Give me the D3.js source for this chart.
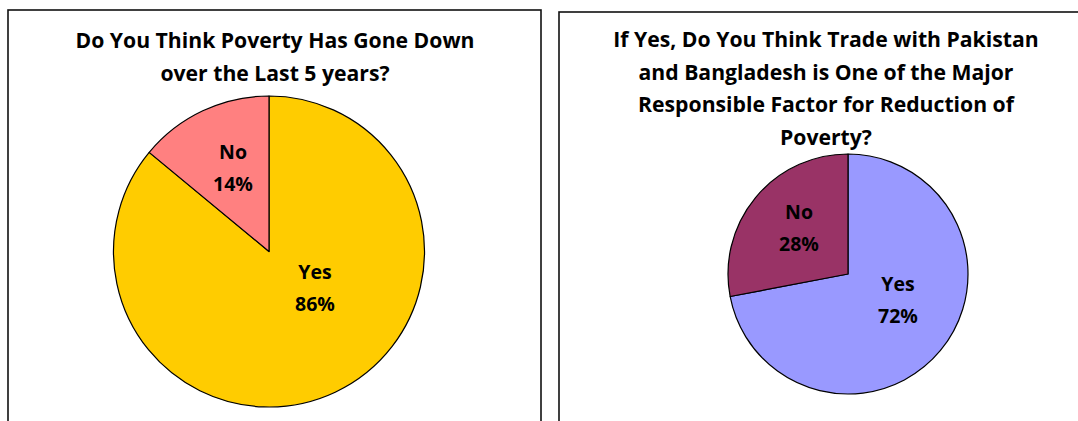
<!DOCTYPE html>
<html><head><meta charset="utf-8">
<script src="https://cdn.jsdelivr.net/npm/d3@7"></script>
<style>html,body{margin:0;padding:0;background:#fff;}svg{display:block;}</style>
</head><body>
<svg id="chart" width="1078" height="421"></svg>
<script>
// ---- data ----
const categories = ["Yes", "No"];
const povertyValues = [86, 14];
const tradeValues = [72, 28];
const povertyTitle = ["Do You Think Poverty Has Gone Down", "over the Last 5 years?"];
const tradeTitle = ["If Yes, Do You Think Trade with Pakistan", "and Bangladesh is One of the Major", "Responsible Factor for Reduction of", "Poverty?"];

// ---- layout / style ----
const panels = [
  { frame: [8, 10, 533, 430], cx: 269, cy: 251.5, r: 155.5, values: povertyValues, title: povertyTitle,
    titleX: 275, titleY0: 48, colors: ["#FFCC00", "#FF8080"],
    labelPos: [[315, 279], [233, 159]] },
  { frame: [559, 12, 540, 430], cx: 848, cy: 274, r: 120, values: tradeValues, title: tradeTitle,
    titleX: 826, titleY0: 47, colors: ["#9999FF", "#993366"],
    labelPos: [[898, 291], [799, 219]] }
];
const font = "'Open Sans', sans-serif";
const titleSize = 21.2;
const labelSize = 19.5;
const lineH = 32.5;

const svg = d3.select("#chart");

panels.forEach(p => {
  const [fx, fy, fw, fh] = p.frame;
  svg.append("rect").attr("x", fx).attr("y", fy).attr("width", fw).attr("height", fh)
    .attr("fill", "#fff").attr("stroke", "#111").attr("stroke-width", 1.6);

  const t = svg.append("text").attr("text-anchor", "middle")
    .attr("font-family", font).attr("font-weight", "bold").attr("font-size", titleSize).attr("fill", "#000");
  p.title.forEach((line, i) => {
    t.append("tspan").attr("x", p.titleX).attr("y", p.titleY0 + i * lineH).text(line);
  });

  const pie = d3.pie().sort(null).value(d => d)(p.values);
  const arc = d3.arc().innerRadius(0).outerRadius(p.r);
  const color = d3.scaleOrdinal().domain(categories).range(p.colors);
  const g = svg.append("g").attr("transform", `translate(${p.cx},${p.cy})`);
  g.selectAll("path").data(pie).join("path")
    .attr("d", arc)
    .attr("fill", (d, i) => color(categories[i]))
    .attr("stroke", "#000").attr("stroke-width", 1.2).attr("stroke-linejoin", "round");

  const total = d3.sum(p.values);
  const lbl = svg.selectAll(null).data(pie).join("text")
    .attr("text-anchor", "middle")
    .attr("font-family", font).attr("font-weight", "bold").attr("font-size", labelSize).attr("fill", "#000");
  lbl.append("tspan").attr("x", (d, i) => p.labelPos[i][0]).attr("y", (d, i) => p.labelPos[i][1]).text((d, i) => categories[i]);
  lbl.append("tspan").attr("x", (d, i) => p.labelPos[i][0]).attr("y", (d, i) => p.labelPos[i][1] + 32)
    .text(d => Math.round(d.value / total * 100) + "%");
});
</script>
</body></html>
